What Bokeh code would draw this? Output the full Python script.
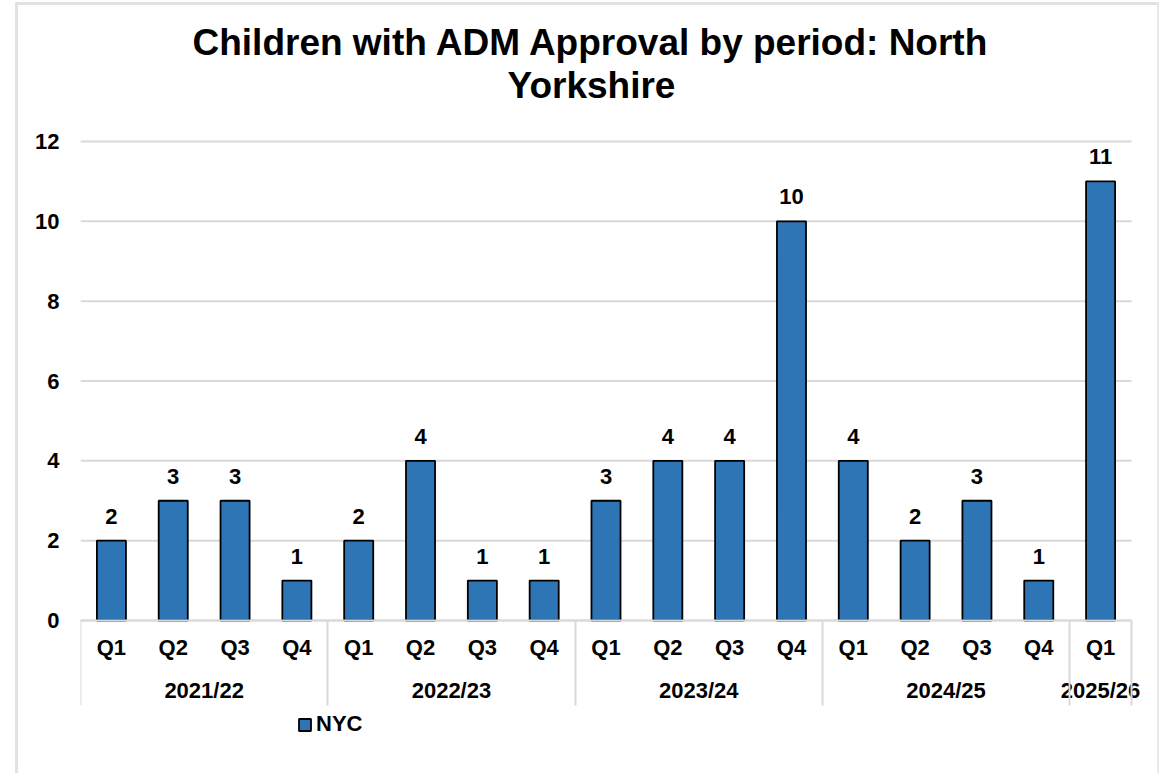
from bokeh.plotting import figure
from bokeh.models import (ColumnDataSource, LinearAxis, FixedTicker, Range1d,
                          LabelSet, Title, Legend, LegendItem)
from bokeh.core.properties import value
from bokeh.embed import file_html
from bokeh.resources import INLINE

# ---- data ----
years = ["2021/22", "2021/22", "2021/22", "2021/22",
         "2022/23", "2022/23", "2022/23", "2022/23",
         "2023/24", "2023/24", "2023/24", "2023/24",
         "2024/25", "2024/25", "2024/25", "2024/25",
         "2025/26"]
quarters = ["Q1", "Q2", "Q3", "Q4",
            "Q1", "Q2", "Q3", "Q4",
            "Q1", "Q2", "Q3", "Q4",
            "Q1", "Q2", "Q3", "Q4",
            "Q1"]
nyc = [2, 3, 3, 1, 2, 4, 1, 1, 3, 4, 4, 10, 4, 2, 3, 1, 11]
series_name = "NYC"
title_line1 = "Children with ADM Approval by period: North"
title_line2 = "Yorkshire"
y_ticks = [0, 2, 4, 6, 8, 10, 12]

FONT = "Liberation Sans"
BAR = "#2E75B6"
GRID = "#d9d9d9"
FS = "22px"

# layout (pixels)
PLOT_H = 479          # height of the 0..12 value area
TOP_PAD = 2           # room so the top grid line is not clipped
BELOW_H = 140         # category rows + legend area inside the frame
DATA_W = 1051         # width of the category area
RIGHT_PAD = 14        # room for the last group label
Y_MAX = 12

n = len(nyc)
xpos = [i + 0.5 for i in range(n)]
src = ColumnDataSource(dict(x=xpos, top=nyc, lbl=[str(v) for v in nyc]))

# group centres and boundaries derived from the year list
group_names = []
group_bounds = []
for i, y in enumerate(years):
    if not group_names or group_names[-1] != y:
        group_names.append(y)
        group_bounds.append([i, i + 1])
    else:
        group_bounds[-1][1] = i + 1
group_centres = [(a + b) / 2 for a, b in group_bounds]
separators = [0] + [b for a, b in group_bounds]

p = figure(frame_width=DATA_W + RIGHT_PAD, frame_height=PLOT_H + TOP_PAD + BELOW_H,
           output_backend="svg", toolbar_location=None,
           x_range=Range1d(0, n * (DATA_W + RIGHT_PAD) / DATA_W),
           y_range=Range1d(-Y_MAX * BELOW_H / PLOT_H, Y_MAX * (1 + TOP_PAD / PLOT_H)),
           min_border_left=80, min_border_right=15,
           min_border_top=139, min_border_bottom=13,
           x_axis_type=None, title=None)
p.outline_line_color = None
p.background_fill_color = "white"
p.border_fill_color = None
# light grey outer chart border (page decoration behind the transparent canvas)
p.styles = {
    "background": ("linear-gradient(#e2e2e2,#e2e2e2) 15px 2px / 3px 771px no-repeat, "
                   "linear-gradient(#e2e2e2,#e2e2e2) 15px 2px / 1143px 3px no-repeat, "
                   "linear-gradient(#e8e8e8,#e8e8e8) 1157px 2px / 2px 771px no-repeat, "
                   "white"),
}

# horizontal grid lines across the category area only
p.segment(x0=0, x1=n, y0=y_ticks, y1=y_ticks, line_color=GRID, line_width=2)

r = p.vbar(x="x", top="top", width=0.47, source=src, fill_color=BAR,
           line_color="black", line_width=1.8)

# y axis
p.yaxis.ticker = FixedTicker(ticks=y_ticks)
p.yaxis.axis_line_color = None
p.yaxis.major_tick_line_color = None
p.yaxis.minor_tick_line_color = None
p.yaxis.major_label_text_font = FONT
p.yaxis.major_label_text_font_style = "bold"
p.yaxis.major_label_text_font_size = FS
p.yaxis.major_label_text_color = "black"
p.yaxis.major_label_standoff = 15
p.ygrid.grid_line_color = None
p.xgrid.grid_line_color = None


def style_axis(ax, standoff):
    ax.fixed_location = 0
    ax.bounds = (0, n)
    ax.major_tick_line_color = None
    ax.minor_tick_line_color = None
    ax.major_tick_out = 0
    ax.major_tick_in = 0
    ax.minor_tick_out = 0
    ax.minor_tick_in = 0
    ax.major_label_text_font = FONT
    ax.major_label_text_font_style = "bold"
    ax.major_label_text_font_size = FS
    ax.major_label_text_color = "black"
    ax.major_label_standoff = standoff


# quarter axis (its line is the zero line)
qaxis = LinearAxis(ticker=FixedTicker(ticks=xpos, minor_ticks=[]),
                   major_label_overrides={x: q for x, q in zip(xpos, quarters)})
style_axis(qaxis, 14)
qaxis.axis_line_color = GRID
qaxis.axis_line_width = 2
p.add_layout(qaxis, "below")

# year axis (second label row)
gaxis = LinearAxis(ticker=FixedTicker(ticks=group_centres, minor_ticks=[]),
                   major_label_overrides={c: g for c, g in zip(group_centres, group_names)})
style_axis(gaxis, 57)
gaxis.axis_line_color = None
p.add_layout(gaxis, "below")

# separator lines between year groups (long downward ticks, no labels)
saxis = LinearAxis(ticker=FixedTicker(ticks=separators, minor_ticks=[]),
                   major_label_overrides={s: "" for s in separators})
style_axis(saxis, 0)
saxis.major_label_text_font_size = "0px"
saxis.axis_line_color = None
saxis.major_tick_line_color = GRID
saxis.major_tick_line_width = 2
saxis.major_tick_out = 85
p.add_layout(saxis, "below")

# value labels
labels = LabelSet(x="x", y="top", text="lbl", source=src, text_align="center",
                  text_baseline="alphabetic", y_offset=17, text_font=value(FONT),
                  text_font_style="bold", text_font_size=FS, text_color="black")
p.add_layout(labels)

# legend (inside the extended frame, below the label rows)
legend = Legend(items=[LegendItem(label=series_name, renderers=[r])],
                location=(217, 23), orientation="horizontal",
                label_text_font=FONT, label_text_font_style="bold",
                label_text_font_size=FS, label_text_color="black",
                glyph_width=15, glyph_height=15, label_standoff=4,
                padding=0, margin=0, spacing=0,
                border_line_color=None, background_fill_alpha=0)
p.add_layout(legend)

# title (two lines) above a spacer; panels stack outward from the frame
p.add_layout(Title(text=" ", standoff=31, text_font_size="1px"), "above")
p.add_layout(Title(text=title_line2, align="left", offset=427, standoff=0,
                   text_font=FONT, text_font_style="bold", text_font_size="37px",
                   text_color="black"), "above")
p.add_layout(Title(text=title_line1, align="left", offset=112, standoff=0,
                   text_font=FONT, text_font_style="bold", text_font_size="37px",
                   text_color="black"), "above")

open("out.html", "w").write(file_html(p, INLINE))
